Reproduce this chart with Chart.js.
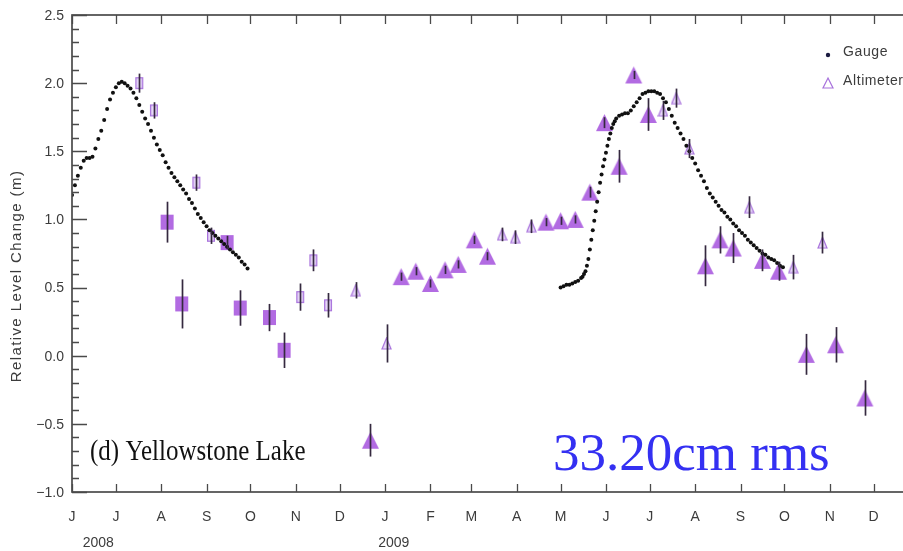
<!DOCTYPE html>
<html>
<head>
<meta charset="utf-8">
<title>Yellowstone Lake level change</title>
<script src="https://cdn.jsdelivr.net/npm/chart.js@4/dist/chart.umd.min.js"></script>
<style>
  html, body { margin: 0; padding: 0; background: #fff; overflow: hidden; width: 903px; height: 551px; }
  #wrap { width: 940px; height: 551px; }
</style>
</head>
<body>
<div id="wrap"><canvas id="c" width="940" height="551"></canvas></div>
<script>
// Time axis: days counted from 1 June 2008
const epoch = '2008-06-01';
const monthStarts = ['2008-06-01','2008-07-01','2008-08-01','2008-09-01','2008-10-01','2008-11-01','2008-12-01',
  '2009-01-01','2009-02-01','2009-03-01','2009-04-01','2009-05-01','2009-06-01','2009-07-01','2009-08-01',
  '2009-09-01','2009-10-01','2009-11-01','2009-12-01','2010-01-01'];
const monthLetters = ['J','J','A','S','O','N','D','J','F','M','A','M','J','J','A','S','O','N','D','J'];
const yearLabels = ['2008', '2009'];
const yearLabelDays = [18, 220];
const yTickValues = [-1.0, -0.5, 0.0, 0.5, 1.0, 1.5, 2.0, 2.5];
const yTickLabels = ['\u22121.0', '\u22120.5', '0.0', '0.5', '1.0', '1.5', '2.0', '2.5'];

// Gauge record (m), 2008 season
const gauge2008Day = [0,2,4,6,8,10,12,14,16,18,20,22,24,26,28,30,32,34,36,38,40,42,44,46,48,50,52,54,56,58,
  60,62,64,66,68,70,72,74,76,78,80,82,84,86,88,90,92,94,96,98,100,102,104,106,108,110,112,114,116,118,120];
const gauge2008Level = [1.18,1.25,1.32,1.38,1.43,1.45,1.45,1.46,1.52,1.59,1.65,1.73,1.81,1.88,1.93,1.97,2.00,2.01,2.00,1.98,
  1.96,1.93,1.89,1.84,1.79,1.74,1.70,1.65,1.60,1.55,1.51,1.47,1.42,1.38,1.34,1.31,1.28,1.25,1.22,1.19,
  1.15,1.12,1.08,1.04,1.01,0.98,0.95,0.92,0.90,0.88,0.86,0.84,0.82,0.80,0.78,0.76,0.74,0.72,0.69,0.67,0.64];

// Gauge record (m), 2009 season
const gauge2009Day = [334,336,338,340,342,344,346,348,349,350,351,352,353,354,355,356,357,358,359,360,361,362,363,364,365,
  366,367,368,369,370,371,372,374,376,378,380,382,384,386,388,390,392,394,396,398,400,402,404,406,408,410,
  412,414,416,418,420,422,424,426,428,430,432,434,436,438,440,442,444,446,448,450,452,454,456,458,460,462,
  464,466,468,470,472,474,476,478,480,482,484,486];
const gauge2009Level = [0.50,0.51,0.52,0.52,0.53,0.54,0.55,0.57,0.58,0.60,0.62,0.66,0.71,0.78,0.85,0.92,0.99,1.06,1.13,1.20,1.27,1.33,1.39,1.44,1.49,
  1.54,1.59,1.63,1.67,1.70,1.72,1.74,1.76,1.77,1.78,1.78,1.80,1.83,1.86,1.89,1.92,1.93,1.94,1.94,1.94,1.93,1.92,1.89,1.86,1.81,1.76,
  1.71,1.67,1.63,1.59,1.54,1.50,1.45,1.41,1.36,1.32,1.28,1.23,1.19,1.16,1.13,1.10,1.07,1.05,1.02,1.00,0.97,0.95,0.92,0.90,0.88,0.85,
  0.83,0.81,0.79,0.77,0.75,0.74,0.72,0.71,0.70,0.68,0.66,0.65];

// Altimeter passes: day, level (m), one-sigma error (m)
const altOpenSqDay   = [46, 56, 85, 95, 156, 165, 175];
const altOpenSqLevel = [2.00, 1.80, 1.27, 0.88, 0.43, 0.70, 0.37];
const altOpenSqErr   = [0.07, 0.06, 0.06, 0.06, 0.10, 0.08, 0.09];

const altFillSqDay   = [65, 75, 106, 115, 135, 145];
const altFillSqLevel = [0.98, 0.38, 0.83, 0.35, 0.28, 0.04];
const altFillSqErr   = [0.15, 0.18, 0.05, 0.13, 0.10, 0.13];

const altSmallTriDay   = [194, 215, 294, 303, 314, 404, 413, 422, 463, 493, 513];
const altSmallTriLevel = [0.48, 0.09, 0.89, 0.87, 0.95, 1.80, 1.89, 1.52, 1.09, 0.65, 0.83];
const altSmallTriErr   = [0.06, 0.14, 0.05, 0.05, 0.05, 0.07, 0.07, 0.07, 0.08, 0.09, 0.08];

const altBigTriDay   = [204, 225, 235, 245, 255, 264, 275, 284, 324, 334, 344, 354, 364, 374, 384, 394,
  433, 443, 452, 472, 483, 502, 522, 542];
const altBigTriLevel = [-0.62, 0.58, 0.62, 0.53, 0.63, 0.67, 0.85, 0.73, 0.98, 0.99, 1.00, 1.20, 1.71, 1.39, 2.06, 1.77,
  0.66, 0.85, 0.79, 0.70, 0.62, 0.01, 0.08, -0.31];
const altBigTriErr   = [0.12, 0.03, 0.03, 0.03, 0.03, 0.03, 0.03, 0.03, 0.03, 0.03, 0.03, 0.04, 0.04, 0.12, 0.03, 0.12,
  0.15, 0.10, 0.11, 0.08, 0.07, 0.15, 0.13, 0.13];

const dayOf = s => Math.round((Date.parse(s) - Date.parse(epoch)) / 864e5);
const pts = (xs, ys) => xs.map((x, i) => ({ x: x, y: ys[i] }));

const PURPLE = '#b26be2';
const PURPLE_EDGE = '#a872dc';
const PURPLE_LIGHT = 'rgba(205,170,240,0.45)';

// Marker sprites: slightly taller than wide, as in the plotted symbols
function marker(shape, w, h, fill, stroke, lw) {
  const c = document.createElement('canvas');
  c.width = w + 2; c.height = h + 2;
  const g = c.getContext('2d');
  g.translate(1, 1);
  g.beginPath();
  if (shape === 'tri') {
    g.moveTo(w / 2, 0); g.lineTo(w, h); g.lineTo(0, h); g.closePath();
  } else {
    g.rect(lw / 2, lw / 2, w - lw, h - lw);
  }
  g.fillStyle = fill; g.fill();
  if (stroke) { g.lineWidth = lw; g.strokeStyle = stroke; g.stroke(); }
  return c;
}
const bigTri   = marker('tri', 17, 17, PURPLE, null, 0);
const fillSq   = marker('rect', 13, 15, PURPLE, null, 0);
const openSq   = marker('rect', 8, 12, PURPLE_LIGHT, PURPLE_EDGE, 1.3);
const smallTri = marker('tri', 9, 11, PURPLE_LIGHT, PURPLE_EDGE, 1.2);

const gaugeStyle = { pointStyle: 'circle', pointRadius: 2, backgroundColor: '#111', borderWidth: 0, showLine: false };

const datasets = [
  Object.assign({ label: 'Gauge', data: pts(gauge2008Day, gauge2008Level) }, gaugeStyle),
  Object.assign({ label: 'Gauge', data: pts(gauge2009Day, gauge2009Level) }, gaugeStyle),
  { label: 'Altimeter', data: pts(altFillSqDay, altFillSqLevel), errors: altFillSqErr,
    pointStyle: fillSq, pointRadius: 8, showLine: false },
  { label: 'Altimeter', data: pts(altBigTriDay, altBigTriLevel), errors: altBigTriErr,
    pointStyle: bigTri, pointRadius: 9, showLine: false },
  { label: 'Altimeter', data: pts(altOpenSqDay, altOpenSqLevel), errors: altOpenSqErr,
    pointStyle: openSq, pointRadius: 6, showLine: false },
  { label: 'Altimeter', data: pts(altSmallTriDay, altSmallTriLevel), errors: altSmallTriErr,
    pointStyle: smallTri, pointRadius: 6, showLine: false }
];

const AXIS = '#4a4a4a';
const TEXT = '#3c3c3c';

const framePlugin = {
  id: 'frame',
  beforeDraw(chart) {
    const ctx = chart.ctx;
    ctx.save();
    ctx.fillStyle = '#fff';
    ctx.fillRect(0, 0, chart.width, chart.height);
    ctx.restore();
  },
  afterDatasetsDraw(chart) {
    // vertical error bars on the altimeter points
    const ctx = chart.ctx, xs = chart.scales.x, ys = chart.scales.y;
    ctx.save();
    ctx.strokeStyle = '#35293f';
    ctx.lineWidth = 1.7;
    chart.data.datasets.forEach(ds => {
      if (!ds.errors) return;
      ds.data.forEach((p, i) => {
        const px = Math.round(xs.getPixelForValue(p.x)) + 0.5;
        ctx.beginPath();
        ctx.moveTo(px, ys.getPixelForValue(p.y - ds.errors[i]));
        ctx.lineTo(px, ys.getPixelForValue(p.y + ds.errors[i]));
        ctx.stroke();
      });
    });
    ctx.restore();
  },
  afterDraw(chart) {
    const ctx = chart.ctx, xs = chart.scales.x, ys = chart.scales.y, a = chart.chartArea;
    ctx.save();
    // frame
    ctx.strokeStyle = AXIS;
    ctx.lineWidth = 1.7;
    ctx.strokeRect(a.left, a.top, a.right - a.left, a.bottom - a.top);

    // y ticks, both sides, pointing inward
    ctx.lineWidth = 1.3;
    for (let i = -10; i <= 25; i++) {
      const v = i / 10;
      const py = Math.round(ys.getPixelForValue(v)) + 0.5;
      const len = (i % 5 === 0) ? 15 : 7;
      ctx.beginPath();
      ctx.moveTo(a.left, py); ctx.lineTo(a.left + len, py);
      ctx.moveTo(a.right, py); ctx.lineTo(a.right - len, py);
      ctx.stroke();
    }
    // x ticks at month starts, top and bottom
    monthStarts.forEach(s => {
      const px = Math.round(xs.getPixelForValue(dayOf(s))) + 0.5;
      ctx.beginPath();
      ctx.moveTo(px, a.bottom); ctx.lineTo(px, a.bottom - 8);
      ctx.moveTo(px, a.top); ctx.lineTo(px, a.top + 9);
      ctx.stroke();
    });

    // tick labels
    ctx.fillStyle = TEXT;
    ctx.font = '14px "Liberation Sans", Arial, sans-serif';
    ctx.textAlign = 'right';
    ctx.textBaseline = 'middle';
    yTickValues.forEach((v, i) => ctx.fillText(yTickLabels[i], a.left - 8, ys.getPixelForValue(v) + 1));
    ctx.textAlign = 'center';
    monthStarts.forEach((s, i) => ctx.fillText(monthLetters[i], xs.getPixelForValue(dayOf(s)), 517));
    yearLabels.forEach((t, i) => ctx.fillText(t, xs.getPixelForValue(yearLabelDays[i]), 543));

    // y axis title
    ctx.save();
    ctx.translate(17, 276);
    ctx.rotate(-Math.PI / 2);
    ctx.font = '15px "Liberation Sans", Arial, sans-serif';
    ctx.letterSpacing = '1.4px';
    ctx.textAlign = 'center';
    ctx.textBaseline = 'middle';
    ctx.fillText('Relative Level Change (m)', 0, 0);
    ctx.restore();

    // legend
    ctx.fillStyle = '#1a1a40';
    ctx.beginPath(); ctx.arc(828, 55, 2.2, 0, Math.PI * 2); ctx.fill();
    ctx.strokeStyle = PURPLE_EDGE;
    ctx.lineWidth = 1.2;
    ctx.beginPath();
    ctx.moveTo(828, 78); ctx.lineTo(833, 88); ctx.lineTo(823, 88); ctx.closePath();
    ctx.stroke();
    ctx.fillStyle = TEXT;
    ctx.font = '14px "Liberation Sans", Arial, sans-serif';
    ctx.letterSpacing = '0.6px';
    ctx.textAlign = 'left';
    ctx.textBaseline = 'middle';
    ctx.fillText('Gauge', 843, 52);
    ctx.fillText('Altimeter', 843, 81);
    ctx.letterSpacing = '0px';

    // panel caption
    ctx.save();
    ctx.translate(90, 460);
    ctx.scale(1, 1.18);
    ctx.fillStyle = '#111';
    ctx.font = '25px "Liberation Serif", "Times New Roman", serif';
    ctx.textAlign = 'left';
    ctx.textBaseline = 'alphabetic';
    ctx.fillText('(d) Yellowstone Lake', 0, 0);
    ctx.restore();

    // rms annotation
    ctx.fillStyle = '#3430f2';
    ctx.font = '53px "Liberation Serif", "Times New Roman", serif';
    ctx.textAlign = 'left';
    ctx.textBaseline = 'alphabetic';
    ctx.fillText('33.20cm rms', 553, 470);
    ctx.restore();
  }
};

new Chart(document.getElementById('c'), {
  type: 'scatter',
  data: { datasets: datasets },
  options: {
    responsive: false,
    animation: false,
    devicePixelRatio: 1,
    layout: { padding: { left: 72, right: 21, top: 15, bottom: 59 } },
    plugins: { legend: { display: false }, tooltip: { enabled: false } },
    scales: {
      x: { type: 'linear', display: false, min: dayOf(monthStarts[0]), max: dayOf(monthStarts[monthStarts.length - 1]) },
      y: { type: 'linear', display: false, min: -1.0, max: 2.5 }
    }
  },
  plugins: [framePlugin]
});
</script>
</body>
</html>
